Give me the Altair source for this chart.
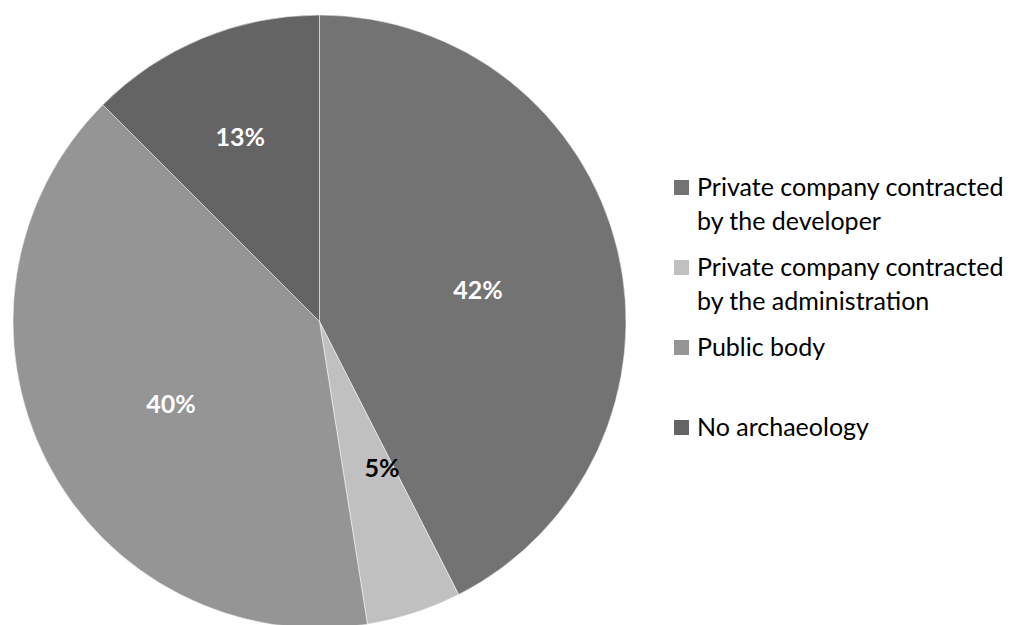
import json
import altair as alt
import pandas as pd

categories = [
    "Private company contracted by the developer",
    "Private company contracted by the administration",
    "Public body",
    "No archaeology",
]
shares = [42.5, 5.0, 40.0, 12.5]
labels = ["42%", "5%", "40%", "13%"]
legend_lines = [
    ["Private company contracted", "by the developer"],
    ["Private company contracted", "by the administration"],
    ["Public body", ""],
    ["No archaeology", ""],
]
colors = ["#737373", "#c0c0c0", "#959595", "#646464"]
light_slice = [False, True, False, False]

df = pd.DataFrame({
    "Category": categories,
    "Share": shares,
    "Label": labels,
    "Light": light_slice,
    "Order": list(range(len(categories))),
})

label_expr = ""
for cat, lines in zip(categories, legend_lines):
    label_expr += f"datum.label == {json.dumps(cat)} ? {json.dumps(lines)} : "
label_expr += "datum.label"

CX, CY, R = 311.5, 313.5, 306.5

base = alt.Chart(df)

theta = alt.Theta("Share:Q", stack=True)
order = alt.Order("Order:Q", sort="ascending")

pie = base.mark_arc(outerRadius=R, stroke="#ffffff", strokeWidth=0.5).encode(
    theta=theta,
    order=order,
    x=alt.value(CX),
    y=alt.value(CY),
    color=alt.Color(
        "Category:N",
        sort=categories,
        scale=alt.Scale(domain=categories, range=colors),
        legend=alt.Legend(
            title=None,
            orient="none",
            legendX=661,
            legendY=167,
            symbolType="square",
            symbolSize=225,
            symbolStrokeWidth=0,
            symbolOpacity=1,
            labelFont="Lato",
            labelFontSize=25,
            labelColor="#000000",
            labelOffset=3,
            labelLimit=500,
            labelBaseline="middle",
            rowPadding=20,
            padding=0,
            labelExpr=label_expr,
        ),
    ),
)

dark_slice_labels = base.mark_text(
    font="Lato", fontSize=25, fontWeight="bold", color="#ffffff",
    align="center", baseline="middle", dy=8,
).encode(
    theta=theta,
    order=order,
    x=alt.value(CX),
    y=alt.value(CY),
    radius=alt.Radius("Share:Q", scale=alt.Scale(type="linear", domain=[12.5, 42.5], range=[207, 163])),
    text=alt.condition("!datum.Light", "Label:N", alt.value("")),
)

light_slice_labels = base.mark_text(
    font="Lato", fontSize=25, fontWeight="bold", color="#000000",
    align="center", baseline="middle", radius=160, dx=13, dy=-5,
).encode(
    theta=theta,
    order=order,
    x=alt.value(CX),
    y=alt.value(CY),
    text=alt.condition("datum.Light", "Label:N", alt.value("")),
)

chart = alt.layer(pie, dark_slice_labels, light_slice_labels).properties(
    width=1005,
    height=617,
    padding=0,
    autosize=alt.AutoSizeParams(type="none"),
).configure(
    background="#ffffff",
    view=alt.ViewConfig(stroke=None),
    style={"guide-label": {"lineHeight": 34}},
)

chart.save("out.html", embed_options={"renderer": "svg", "actions": False})
